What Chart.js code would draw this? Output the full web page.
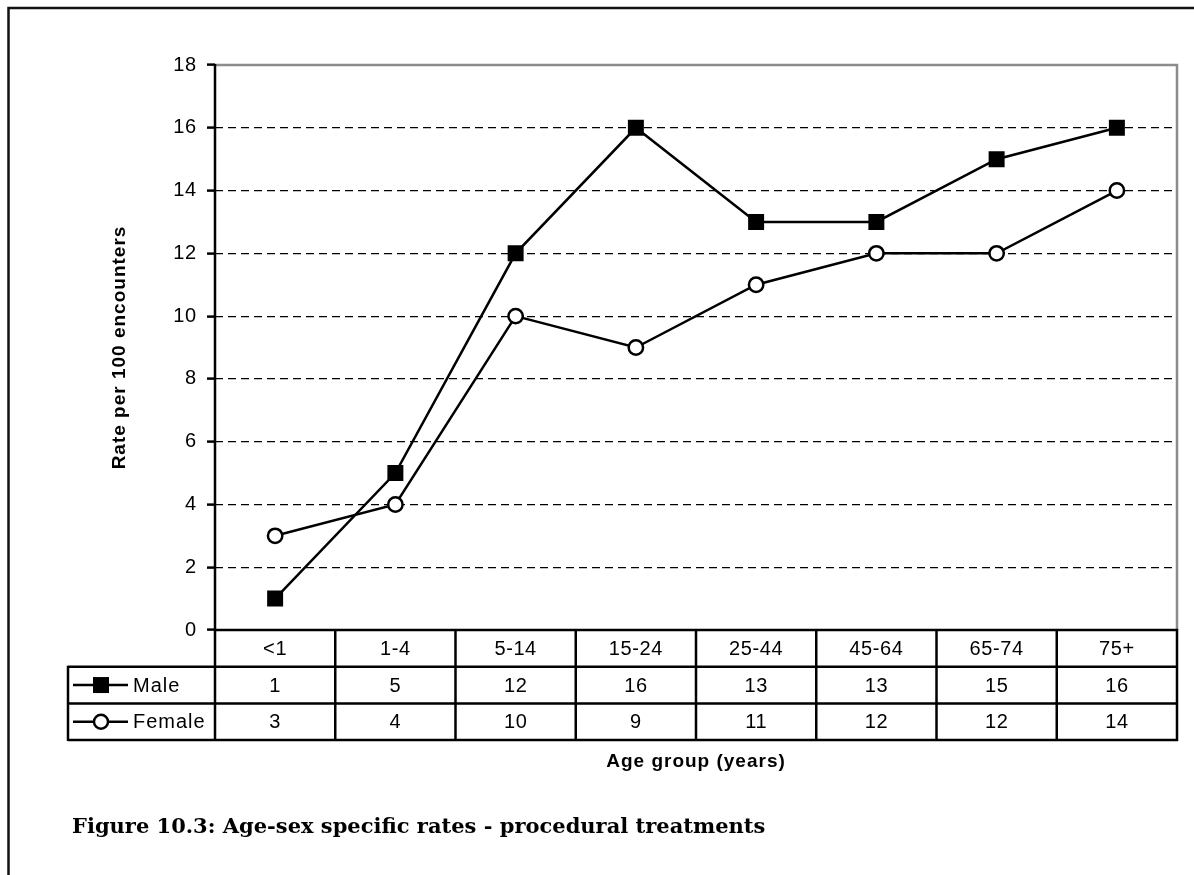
<!DOCTYPE html>
<html>
<head>
<meta charset="utf-8">
<script src="https://cdn.jsdelivr.net/npm/chart.js@4.4.1/dist/chart.umd.min.js"></script>
<style>
  html, body { margin: 0; padding: 0; background: #fff; }
  canvas { display: block; }
</style>
</head>
<body>
<canvas id="rateChart" width="1194" height="875"></canvas>
<script>
const ageGroups = ['<1', '1-4', '5-14', '15-24', '25-44', '45-64', '65-74', '75+'];
const maleRates = [1, 5, 12, 16, 13, 13, 15, 16];
const femaleRates = [3, 4, 10, 9, 11, 12, 12, 14];
const yMin = 0;
const yMax = 18;
const yStep = 2;

const yTitle = 'Rate per 100 encounters';
const xTitle = 'Age group (years)';
const caption = 'Figure 10.3: Age-sex specific rates - procedural treatments';

const sansFont = '"Liberation Sans", Arial, sans-serif';

// frame, plot box, data table and titles
const tablePlugin = {
    id: 'tablePlugin',
    beforeDraw(chart) {
        chart.ctx.letterSpacing = '0.8px';
    },
    afterDraw(chart) {
        const ctx = chart.ctx;
        const area = chart.chartArea;
        const xs = chart.scales.x;
        const rowH = 36.7;
        const legendLeft = 68;
        const top = area.bottom;
        const half = (xs.getPixelForValue(1) - xs.getPixelForValue(0)) / 2;

        ctx.save();
        ctx.letterSpacing = '0px';

        // page frame
        ctx.strokeStyle = '#111';
        ctx.lineWidth = 2.5;
        ctx.beginPath();
        ctx.moveTo(8.5, chart.height);
        ctx.lineTo(8.5, 8);
        ctx.lineTo(chart.width, 8);
        ctx.stroke();

        // plot box: grey top/right, black axes
        ctx.lineWidth = 2.5;
        ctx.strokeStyle = '#8c8c8c';
        ctx.beginPath();
        ctx.moveTo(area.left, area.top);
        ctx.lineTo(area.right, area.top);
        ctx.lineTo(area.right, area.bottom);
        ctx.stroke();

        ctx.strokeStyle = '#000';
        ctx.beginPath();
        ctx.moveTo(area.left, area.top - 1);
        ctx.lineTo(area.left, top + rowH * 3 + 1);
        ctx.stroke();

        // table lines
        ctx.beginPath();
        ctx.moveTo(area.left, top);
        ctx.lineTo(area.right + 1, top);
        for (let r = 1; r <= 3; r++) {
            ctx.moveTo(legendLeft, top + rowH * r);
            ctx.lineTo(area.right + 1, top + rowH * r);
        }
        ctx.moveTo(legendLeft, top + rowH - 1);
        ctx.lineTo(legendLeft, top + rowH * 3 + 1);
        ageGroups.forEach((g, i) => {
            const xr = xs.getPixelForValue(i) + half;
            ctx.moveTo(xr, top - 1);
            ctx.lineTo(xr, top + rowH * 3 + 1);
        });
        ctx.stroke();

        // table text
        ctx.fillStyle = '#000';
        ctx.font = '20px ' + sansFont;
        ctx.letterSpacing = '0.6px';
        ctx.textAlign = 'center';
        ctx.textBaseline = 'middle';
        ageGroups.forEach((g, i) => {
            const cx = xs.getPixelForValue(i);
            ctx.fillText(g, cx, top + rowH * 0.5 + 1);
            ctx.fillText(String(maleRates[i]), cx, top + rowH * 1.5 + 1);
            ctx.fillText(String(femaleRates[i]), cx, top + rowH * 2.5 + 1);
        });

        // legend keys inside the table
        const keyY1 = top + rowH * 1.5;
        const keyY2 = top + rowH * 2.5;
        ctx.lineWidth = 2.5;
        ctx.beginPath();
        ctx.moveTo(73, keyY1);
        ctx.lineTo(128, keyY1);
        ctx.moveTo(73, keyY2);
        ctx.lineTo(128, keyY2);
        ctx.stroke();
        ctx.fillRect(101 - 8, keyY1 - 8, 16, 16);
        ctx.beginPath();
        ctx.arc(101, keyY2, 7, 0, Math.PI * 2);
        ctx.fillStyle = '#fff';
        ctx.fill();
        ctx.stroke();
        ctx.fillStyle = '#000';
        ctx.textAlign = 'left';
        ctx.letterSpacing = '1px';
        ctx.fillText(chart.data.datasets[0].label, 133, keyY1 + 1);
        ctx.fillText(chart.data.datasets[1].label, 133, keyY2 + 1);

        // axis titles
        ctx.font = 'bold 19px ' + sansFont;
        ctx.letterSpacing = '1px';
        ctx.textAlign = 'center';
        ctx.fillText(xTitle, (area.left + area.right) / 2, top + rowH * 3 + 22);

        ctx.save();
        ctx.translate(120, (area.top + area.bottom) / 2);
        ctx.rotate(-Math.PI / 2);
        ctx.fillText(yTitle, 0, 0);
        ctx.restore();

        // caption
        ctx.letterSpacing = '0px';
        ctx.font = 'bold 21px "DejaVu Serif", "Liberation Serif", serif';
        ctx.textAlign = 'left';
        ctx.textBaseline = 'alphabetic';
        ctx.fillText(caption, 72, 833);

        ctx.restore();
    }
};

const ctx = document.getElementById('rateChart').getContext('2d');
const rateChart = new Chart(ctx, {
    type: 'line',
    data: {
        labels: ageGroups,
        datasets: [{
            label: 'Male',
            data: maleRates,
            borderColor: '#000',
            borderWidth: 2.5,
            pointStyle: 'rect',
            pointRadius: 11.3,
            pointBackgroundColor: '#000',
            pointBorderColor: '#000',
            pointBorderWidth: 0,
            tension: 0
        }, {
            label: 'Female',
            data: femaleRates,
            borderColor: '#000',
            borderWidth: 2.5,
            pointStyle: 'circle',
            pointRadius: 7.2,
            pointBackgroundColor: '#fff',
            pointBorderColor: '#000',
            pointBorderWidth: 2.5,
            tension: 0
        }]
    },
    options: {
        responsive: false,
        animation: false,
        devicePixelRatio: 1,
        layout: {
            padding: { top: 65, right: 17, left: 0, bottom: 0 }
        },
        scales: {
            x: {
                offset: true,
                ticks: { display: false },
                grid: { display: false },
                border: { display: false },
                afterFit: (scale) => { scale.height = 245; }
            },
            y: {
                min: yMin,
                max: yMax,
                ticks: {
                    stepSize: yStep,
                    color: '#000',
                    padding: 10,
                    font: { family: sansFont, size: 20 }
                },
                grid: {
                    color: (c) => (c.tick && (c.tick.value === yMin || c.tick.value === yMax)) ? 'rgba(0,0,0,0)' : '#000',
                    lineWidth: 1.2,
                    tickLength: 8,
                    tickColor: '#000',
                    tickWidth: 2.5,
                    tickBorderDash: []
                },
                border: { display: false, dash: [8, 5] },
                afterFit: (scale) => { scale.width = 215; }
            }
        },
        plugins: {
            legend: { display: false },
            tooltip: { enabled: false }
        }
    },
    plugins: [tablePlugin]
});
</script>
</body>
</html>
